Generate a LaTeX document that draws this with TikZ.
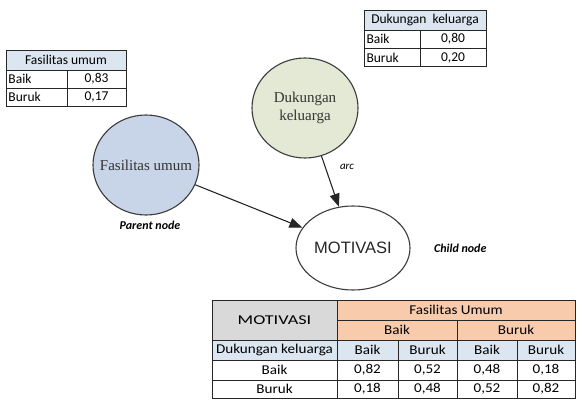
\documentclass[tikz,border=0pt]{standalone}
\usepackage{fontspec}
\setmainfont{Liberation Serif}
\newfontfamily\calibri{Carlito}
\newfontfamily\calibriwide{Carlito}[FakeStretch=1.12]
\newfontfamily\calibriwider{Carlito}[FakeStretch=1.35]
\newfontfamily\arialfont{Liberation Sans}
\usepackage{tikz}
\usetikzlibrary{positioning,shapes.geometric,arrows.meta}
\definecolor{hdrblue}{HTML}{DCE6F1}
\definecolor{hdrorange}{HTML}{F8CBAD}
\definecolor{hdrgray}{HTML}{D9D9D9}
\definecolor{fasfill}{HTML}{C8D5E8}
\definecolor{dukfill}{HTML}{E4E9D6}
\definecolor{rimgray}{HTML}{3C3C3C}

\begin{document}
\begin{tikzpicture}[
		x=1pt, y=-1pt,
		cell/.style={draw=black!85, line width=0.6pt,
			inner sep=1.5pt, minimum height=#1,
			font=\calibri\fontsize{13.5}{13.5}\selectfont,
		},
		cell/.default=18pt,
		tcell/.style={cell=#1, font=\calibriwide\fontsize{13.5}{13.5}\selectfont},
		tcell/.default=20pt,
		var/.style={ellipse, draw=rimgray, line width=1.1pt,
			minimum width=106pt, minimum height=100pt, inner sep=-14pt,
			align=center, text=black!80,
			font=\fontsize{15}{18}\selectfont,
		},
		arc/.style={-{Triangle[length=13pt,width=10pt]}, line width=1.1pt, draw=black!85},
		note/.style={font=\calibri\bfseries\itshape\fontsize{12}{14}\selectfont},
		]
		\useasboundingbox (0,0) rectangle (578,401);

		% prior table: Fasilitas umum
		\node (fasHead) [cell=20pt, fill=hdrblue, minimum width=120pt] at (66,60) {Fasilitas umum};
		\node (fasB) [cell, minimum width=61pt, text width=56pt, align=left] at (36.5,79) {Baik};
		\node (fasBv) [cell, minimum width=59pt] at (96.5,79) {0,83};
		\node (fasR) [cell, minimum width=61pt, text width=56pt, align=left] at (36.5,97) {Buruk};
		\node (fasRv) [cell, minimum width=59pt] at (96.5,97) {0,17};

		% prior table: Dukungan keluarga
		\node (dukHead) [cell=20pt, fill=hdrblue, minimum width=122pt] at (425,20) {Dukungan\ \ keluarga};
		\node (dukB) [cell, minimum width=56pt, text width=51pt, align=left] at (392,39) {Baik};
		\node (dukBv) [cell, minimum width=66pt] at (453,39) {0,80};
		\node (dukR) [cell, minimum width=56pt, text width=51pt, align=left] at (392,57.5) {Buruk};
		\node (dukRv) [cell, minimum width=66pt] at (453,57.5) {0,20};

		% network
		\node (fas) [var, fill=fasfill] at (146,165) {Fasilitas umum};
		\node (duk) [var, fill=dukfill] at (305,108) {Dukungan\\keluarga};
		\node (mot) [var, minimum width=114pt, minimum height=84pt,
			font=\arialfont\fontsize{16.5}{18}\selectfont, text=black!85] at (353,248) {MOTIVASI};
		\draw[arc] (fas) -- (mot);
		\draw[arc] (duk) -- (mot);
		\node [note, font=\calibri\itshape\fontsize{11}{13}\selectfont] at (347,167) {arc};
		\node [note, below=2pt of fas, xshift=4pt] {Parent node};
		\node [note, right=20pt of mot] {Child node};

		% conditional table: MOTIVASI
		\node (cMot) [tcell=40pt, fill=hdrgray, minimum width=125pt,
			font=\calibriwider\fontsize{13.5}{13.5}\selectfont] at (274.5,320) {MOTIVASI};
		\node (cFas) [tcell, fill=hdrorange, minimum width=238pt] at (456,310) {Fasilitas Umum};
		\node (cFasB) [tcell, fill=hdrorange, minimum width=120pt] at (397,330) {Baik};
		\node (cFasR) [tcell, fill=hdrorange, minimum width=118pt] at (516,330) {Buruk};
		\node (cDuk) [tcell, fill=hdrblue, minimum width=125pt] at (274.5,350) {Dukungan keluarga};
		\node (cBB) [tcell, fill=hdrblue, minimum width=61pt] at (367.5,350) {Baik};
		\node (cBR) [tcell, fill=hdrblue, minimum width=59pt] at (427.5,350) {Buruk};
		\node (cRB) [tcell, fill=hdrblue, minimum width=60pt] at (487,350) {Baik};
		\node (cRR) [tcell, fill=hdrblue, minimum width=58pt] at (546,350) {Buruk};
		\node (r1) [tcell, minimum width=125pt] at (274.5,370) {Baik};
		\node (r1a) [tcell, minimum width=61pt] at (367.5,370) {0,82};
		\node (r1b) [tcell, minimum width=59pt] at (427.5,370) {0,52};
		\node (r1c) [tcell, minimum width=60pt] at (487,370) {0,48};
		\node (r1d) [tcell, minimum width=58pt] at (546,370) {0,18};
		\node (r2) [tcell=18pt, minimum width=125pt] at (274.5,389) {Buruk};
		\node (r2a) [tcell=18pt, minimum width=61pt] at (367.5,389) {0,18};
		\node (r2b) [tcell=18pt, minimum width=59pt] at (427.5,389) {0,48};
		\node (r2c) [tcell=18pt, minimum width=60pt] at (487,389) {0,52};
		\node (r2d) [tcell=18pt, minimum width=58pt] at (546,389) {0,82};

	\end{tikzpicture}
\end{document}
